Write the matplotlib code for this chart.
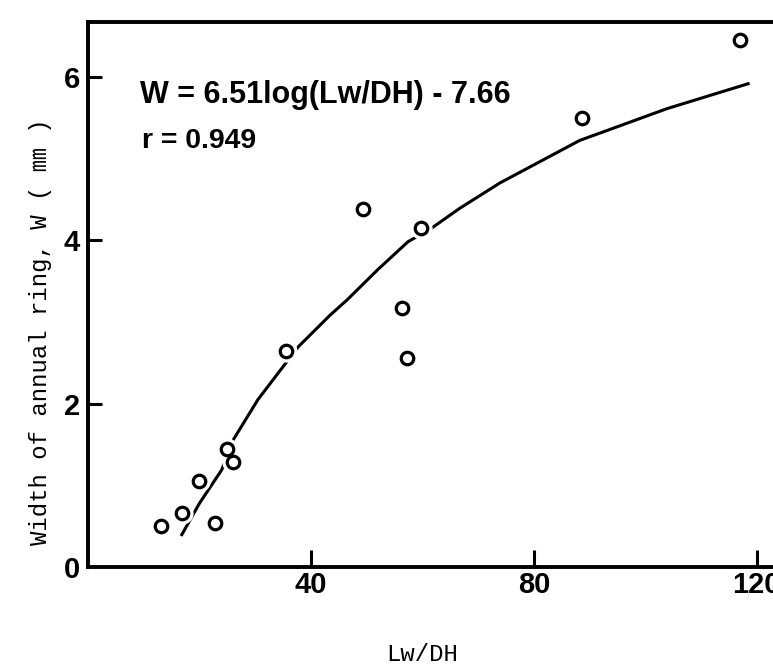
import matplotlib
matplotlib.use("Agg")
import matplotlib.pyplot as plt

lw_dh = [13.1, 16.8, 19.9, 22.8, 24.9, 26.0, 35.5, 49.3, 56.3, 57.2, 59.7, 88.7, 117.0]
width = [0.50, 0.66, 1.05, 0.54, 1.44, 1.28, 2.64, 4.38, 3.17, 2.56, 4.15, 5.49, 6.45]

# regression curve
curve_x = [16.7, 20.0, 24.0, 26.0, 30.5, 35.2, 37.8, 43.4, 46.5, 52.0, 57.4, 61.7, 66.7, 73.9, 88.2, 103.9, 118.7]
curve_y = [0.38, 0.78, 1.19, 1.55, 2.05, 2.47, 2.70, 3.08, 3.27, 3.64, 3.98, 4.15, 4.39, 4.70, 5.22, 5.61, 5.92]

xticks = [40, 80, 120]
yticks = [0, 2, 4, 6]

equation = "W = 6.51log(Lw/DH) - 7.66"
corr = "r = 0.949"

fig = plt.figure(figsize=(7.73, 6.68), dpi=100)
ax = fig.add_axes([88 / 773, 101 / 668, 685 / 773, 545 / 668])

ax.plot(curve_x, curve_y, color="black", lw=2.2, solid_capstyle="butt", zorder=2)
# white halo so the line breaks around the circles like the original
ax.plot(lw_dh, width, "o", ms=15, mfc="white", mec="white", zorder=3)
ax.plot(lw_dh, width, "o", ms=9, mfc="white", mec="black", mew=2.3, zorder=4)

ax.set_xlim(0, 122.9)
ax.set_ylim(0, 6.67)

for side in ["left", "bottom", "top"]:
    ax.spines[side].set_linewidth(2.8)
ax.spines["right"].set_visible(False)

tick_font = {"family": ["Liberation Sans", "DejaVu Sans"], "weight": "bold", "size": 21}
ax.set_xticks(xticks)
ax.set_xticklabels([str(t) for t in xticks], fontdict=tick_font)
ax.set_yticks(yticks)
ax.set_yticklabels([str(t) for t in yticks], fontdict=tick_font)
ax.tick_params(axis="x", direction="in", length=12, width=2.2, pad=3)
ax.tick_params(axis="y", direction="in", length=10, width=2.2, pad=6)
ax.yaxis.get_major_ticks()[0].tick1line.set_visible(False)

ax.text(9.3, 5.68, equation, fontdict=tick_font, size=22, va="baseline")
ax.text(9.7, 5.13, corr, fontdict=tick_font, size=20.5, va="baseline")

label_font = {"family": ["Liberation Mono", "Noto Sans CJK JP"], "size": 17.3}
ax.set_ylabel("Width of annual ring, W ( ㎜ )", fontdict=label_font, va="center")
ax.yaxis.set_label_coords(-0.070, 0.431)
ax.set_xlabel("Lw/DH", fontdict=label_font, va="center")
ax.xaxis.set_label_coords(0.488, -0.161)

fig.savefig("out.png", dpi=100)
